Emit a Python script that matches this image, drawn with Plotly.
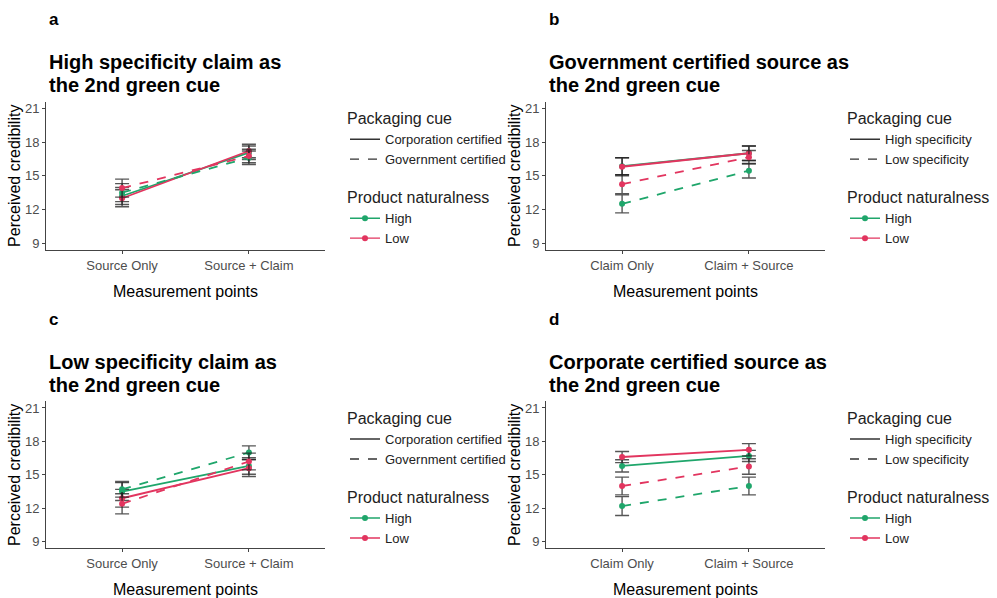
import plotly.graph_objects as go

W, H = 997, 598
FONT = "Liberation Sans, Arial, sans-serif"
GREEN = "#1FA66B"
RED = "#E2355F"

# ---------------- data ----------------
panel_letters = ["a", "b", "c", "d"]
panel_titles = [
    ["High specificity claim as", "the 2nd green cue"],
    ["Government certified source as", "the 2nd green cue"],
    ["Low specificity claim as", "the 2nd green cue"],
    ["Corporate certified source as", "the 2nd green cue"],
]
x_cats_source = ["Source Only", "Source + Claim"]
x_cats_claim = ["Claim Only", "Claim + Source"]
panel_x = [x_cats_source, x_cats_claim, x_cats_source, x_cats_claim]

cue_source = ["Corporation certified", "Government certified"]
cue_claim = ["High specificity", "Low specificity"]
panel_cues = [cue_source, cue_claim, cue_source, cue_claim]
naturalness = ["High", "Low"]

# means [panel][(cue, naturalness)] -> values at the two measurement points
means_a = {("c0", "High"): [13.2, 17.05], ("c0", "Low"): [13.0, 17.2],
           ("c1", "High"): [13.5, 16.6], ("c1", "Low"): [13.9, 16.75]}
se_a = {("c0", "High"): [0.75, 0.6], ("c0", "Low"): [0.75, 0.6],
        ("c1", "High"): [0.8, 0.6], ("c1", "Low"): [0.8, 0.6]}

means_b = {("c0", "High"): [15.85, 17.0], ("c0", "Low"): [15.8, 17.0],
           ("c1", "High"): [12.5, 15.45], ("c1", "Low"): [14.25, 16.65]}
se_b = {("c0", "High"): [0.75, 0.65], ("c0", "Low"): [0.8, 0.65],
        ("c1", "High"): [0.8, 0.65], ("c1", "Low"): [0.85, 0.6]}

means_c = {("c0", "High"): [13.5, 15.8], ("c0", "Low"): [12.9, 15.6],
           ("c1", "High"): [13.7, 17.0], ("c1", "Low"): [12.4, 16.2]}
se_c = {("c0", "High"): [0.8, 0.75], ("c0", "Low"): [0.8, 0.75],
        ("c1", "High"): [0.7, 0.6], ("c1", "Low"): [0.9, 0.75]}

means_d = {("c0", "High"): [15.8, 16.7], ("c0", "Low"): [16.6, 17.25],
           ("c1", "High"): [12.2, 14.0], ("c1", "Low"): [14.0, 15.75]}
se_d = {("c0", "High"): [0.55, 0.5], ("c0", "Low"): [0.5, 0.55],
        ("c1", "High"): [0.85, 0.8], ("c1", "Low"): [0.8, 0.7]}

panel_means = [means_a, means_b, means_c, means_d]
panel_se = [se_a, se_b, se_c, se_d]

y_ticks = [9, 12, 15, 18, 21]

# ---------------- layout geometry (pixels) ----------------
col_left = [46, 546, 46, 546]
col_right = [325, 825, 325, 825]
row_top = [101.5, 101.5, 401.3, 401.3]
row_bot = [250, 250, 548.4, 548.4]
dash_of = {"c0": "solid", "c1": "dash"}
color_of = {"High": GREEN, "Low": RED}

fig = go.Figure()
layout = dict(
    width=W, height=H, margin=dict(l=0, r=0, t=0, b=0, autoexpand=False),
    paper_bgcolor="white", plot_bgcolor="white",
    font=dict(family=FONT, color="#000000"),
    showlegend=True, annotations=[],
)

for p in range(4):
    ax = "" if p == 0 else str(p + 1)
    xa, ya = "x" + ax, "y" + ax
    cats = panel_x[p]
    for ck in ["c0", "c1"]:
        for nat in naturalness:
            fig.add_trace(go.Scatter(
                x=cats, y=panel_means[p][(ck, nat)],
                mode="lines+markers",
                line=dict(color=color_of[nat], width=1.8, dash=dash_of[ck]),
                marker=dict(color=color_of[nat], size=6),
                error_y=dict(type="data", array=panel_se[p][(ck, nat)],
                             color="rgba(30,30,30,0.75)", thickness=1.4, width=7),
                xaxis=xa, yaxis=ya, showlegend=False, hoverinfo="x+y",
            ))
    # legend entries
    lg1 = "legend" if p == 0 else "legend" + str(2 * p + 1)
    lg2 = "legend" + str(2 * p + 2)
    for ck, cue in zip(["c0", "c1"], panel_cues[p]):
        fig.add_trace(go.Scatter(
            x=[None], y=[None], mode="lines", name=cue,
            line=dict(color="#333333", width=1.4, dash=dash_of[ck]),
            xaxis=xa, yaxis=ya, legend=lg1, showlegend=True))
    for nat in naturalness:
        fig.add_trace(go.Scatter(
            x=[None], y=[None], mode="lines+markers", name=nat,
            line=dict(color=color_of[nat], width=1.4),
            marker=dict(color=color_of[nat], size=6),
            xaxis=xa, yaxis=ya, legend=lg2, showlegend=True))

    leg_x = (col_right[p] + 20) / W
    top = row_top[p]
    layout[lg1] = dict(
        x=leg_x, y=1 - (top + 2) / H, xanchor="left", yanchor="top",
        title=dict(text="Packaging cue", font=dict(size=16, family=FONT)),
        font=dict(size=13, family=FONT, color="#222222"),
        bgcolor="rgba(0,0,0,0)", itemwidth=30, tracegroupgap=0,
    )
    layout[lg2] = dict(
        x=leg_x, y=1 - (top + 81) / H, xanchor="left", yanchor="top",
        title=dict(text="Product naturalness", font=dict(size=16, family=FONT)),
        font=dict(size=13, family=FONT, color="#222222"),
        bgcolor="rgba(0,0,0,0)", itemwidth=30, tracegroupgap=0,
    )

    xkey = "xaxis" + ax
    ykey = "yaxis" + ax
    layout[xkey] = dict(
        domain=[col_left[p] / W, col_right[p] / W], anchor=ya,
        type="category", categoryarray=cats, categoryorder="array",
        range=[-0.6, 1.6], showgrid=False, zeroline=False, automargin=False,
        showline=True, linecolor="#444444", linewidth=1,
        ticks="outside", ticklen=3, tickcolor="#444444",
        tickfont=dict(size=13, color="#4D4D4D", family=FONT),
        title=dict(text="Measurement points", font=dict(size=16, family=FONT), standoff=14),
    )
    layout[ykey] = dict(
        domain=[1 - row_bot[p] / H, 1 - row_top[p] / H], anchor=xa,
        range=[8.4, 21.6], tickvals=y_ticks, showgrid=False, zeroline=False,
        automargin=False,
        showline=True, linecolor="#444444", linewidth=1,
        ticks="outside", ticklen=3, tickcolor="#444444",
        tickfont=dict(size=13, color="#4D4D4D", family=FONT),
        title=dict(text="Perceived credibility", font=dict(size=16, family=FONT), standoff=0),
    )

    # panel letter and title
    tx = (col_left[p] + 1) / W
    layout["annotations"].append(dict(
        text="<b>%s</b>" % panel_letters[p], x=tx, y=1 - (top - 82) / H,
        xref="paper", yref="paper", xanchor="left", yanchor="middle",
        showarrow=False, font=dict(size=17, family=FONT, color="#000")))
    for i, line in enumerate(panel_titles[p]):
        layout["annotations"].append(dict(
            text="<b>%s</b>" % line, x=tx, y=1 - (top - 39 + 23 * i) / H,
            xref="paper", yref="paper", xanchor="left", yanchor="middle",
            showarrow=False, font=dict(size=20, family=FONT, color="#000")))

fig.update_layout(**layout)
fig.write_html("out.html", config={"displayModeBar": False},
               post_script="document.body.style.margin='0';document.body.style.overflow='hidden';")
